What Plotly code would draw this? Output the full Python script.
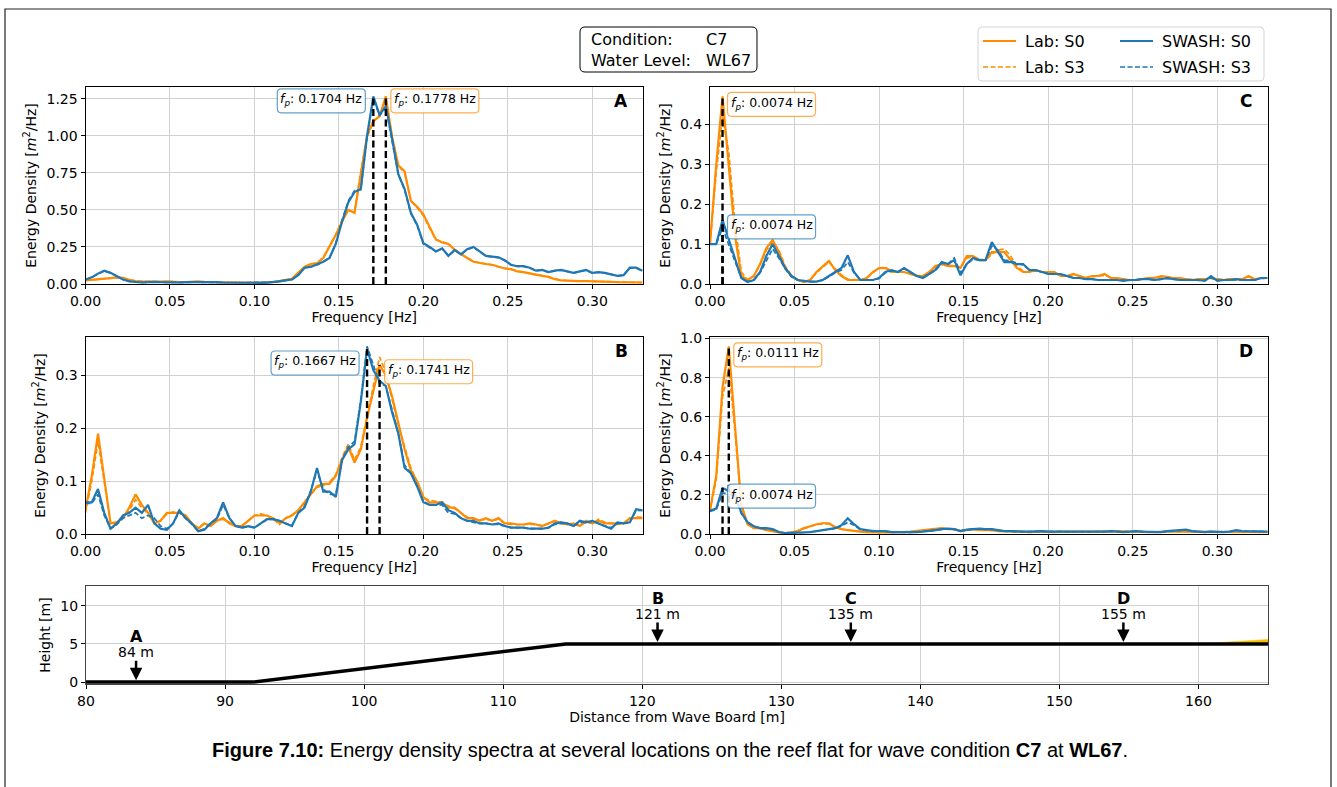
import numpy as np
import plotly.graph_objects as go

W, H = 1337, 787
FONT = "DejaVu Sans"

# ---------------------------------------------------------------- data
DF = 1 / 270                      # spectral resolution [Hz]
N_BINS = 90
FREQ = [k * DF for k in range(N_BINS)]

# Panel A
LAB_S0_A = [0.025, 0.028, 0.032, 0.036, 0.040, 0.045, 0.042, 0.028, 0.020, 0.018,
            0.016, 0.015, 0.016, 0.018, 0.014, 0.013, 0.012, 0.016, 0.018, 0.015,
            0.012, 0.012, 0.010, 0.010, 0.011, 0.008, 0.008, 0.008, 0.008, 0.010,
            0.012, 0.020, 0.028, 0.035, 0.075, 0.115, 0.135, 0.140, 0.175, 0.250,
            0.330, 0.420, 0.500, 0.480, 0.750, 1.000, 1.100, 1.130, 1.265, 0.990,
            0.800, 0.760, 0.560, 0.520, 0.470, 0.380, 0.300, 0.280, 0.270, 0.230,
            0.200, 0.175, 0.150, 0.140, 0.135, 0.130, 0.115, 0.105, 0.100, 0.085,
            0.080, 0.070, 0.062, 0.055, 0.048, 0.032, 0.025, 0.022, 0.020, 0.020,
            0.020, 0.020, 0.018, 0.016, 0.015, 0.013, 0.012, 0.011, 0.010, 0.010]
LAB_S3_A = [0.024, 0.027, 0.031, 0.035, 0.040, 0.043, 0.040, 0.027, 0.020, 0.018,
            0.016, 0.015, 0.015, 0.017, 0.014, 0.013, 0.013, 0.015, 0.017, 0.015,
            0.012, 0.011, 0.010, 0.010, 0.010, 0.008, 0.008, 0.008, 0.009, 0.010,
            0.013, 0.020, 0.030, 0.036, 0.078, 0.118, 0.135, 0.142, 0.180, 0.255,
            0.335, 0.430, 0.495, 0.485, 0.760, 0.990, 1.090, 1.140, 1.250, 0.995,
            0.795, 0.750, 0.565, 0.515, 0.460, 0.375, 0.300, 0.285, 0.270, 0.235,
            0.200, 0.178, 0.152, 0.142, 0.135, 0.128, 0.115, 0.106, 0.098, 0.086,
            0.080, 0.071, 0.062, 0.056, 0.047, 0.033, 0.026, 0.022, 0.021, 0.020,
            0.020, 0.019, 0.018, 0.016, 0.015, 0.013, 0.012, 0.011, 0.010, 0.010]
SWASH_S0_A = [0.030, 0.045, 0.070, 0.090, 0.075, 0.050, 0.030, 0.018, 0.012, 0.010,
              0.012, 0.015, 0.012, 0.010, 0.011, 0.010, 0.012, 0.013, 0.012, 0.010,
              0.012, 0.012, 0.010, 0.009, 0.010, 0.010, 0.010, 0.009, 0.008, 0.009,
              0.012, 0.018, 0.025, 0.030, 0.060, 0.110, 0.115, 0.130, 0.150, 0.175,
              0.270, 0.420, 0.550, 0.620, 0.640, 1.000, 1.265, 1.140, 1.200, 0.980,
              0.740, 0.640, 0.480, 0.400, 0.275, 0.250, 0.220, 0.240, 0.190, 0.230,
              0.200, 0.235, 0.250, 0.220, 0.190, 0.185, 0.180, 0.160, 0.130, 0.120,
              0.120, 0.110, 0.090, 0.095, 0.080, 0.090, 0.095, 0.085, 0.075, 0.085,
              0.095, 0.075, 0.080, 0.075, 0.065, 0.055, 0.060, 0.110, 0.110, 0.090]
SWASH_S3_A = [0.030, 0.044, 0.068, 0.088, 0.074, 0.050, 0.030, 0.018, 0.012, 0.010,
              0.012, 0.014, 0.012, 0.010, 0.011, 0.010, 0.011, 0.013, 0.012, 0.010,
              0.011, 0.012, 0.010, 0.009, 0.010, 0.010, 0.010, 0.009, 0.008, 0.009,
              0.012, 0.018, 0.026, 0.031, 0.062, 0.108, 0.118, 0.128, 0.150, 0.178,
              0.275, 0.430, 0.560, 0.630, 0.635, 0.990, 1.250, 1.135, 1.190, 0.975,
              0.735, 0.635, 0.475, 0.395, 0.270, 0.245, 0.220, 0.238, 0.188, 0.228,
              0.198, 0.232, 0.248, 0.218, 0.188, 0.183, 0.178, 0.158, 0.128, 0.118,
              0.118, 0.108, 0.090, 0.094, 0.080, 0.089, 0.093, 0.084, 0.074, 0.084,
              0.093, 0.074, 0.079, 0.074, 0.064, 0.055, 0.060, 0.108, 0.108, 0.089]

# Panel B
LAB_S0_B = [0.045, 0.110, 0.190, 0.100, 0.020, 0.022, 0.030, 0.050, 0.075, 0.055,
            0.040, 0.020, 0.025, 0.040, 0.040, 0.040, 0.035, 0.020, 0.010, 0.020,
            0.015, 0.025, 0.030, 0.020, 0.015, 0.015, 0.025, 0.035, 0.035, 0.035,
            0.030, 0.020, 0.030, 0.035, 0.045, 0.060, 0.075, 0.090, 0.095, 0.095,
            0.110, 0.140, 0.165, 0.135, 0.160, 0.220, 0.270, 0.320, 0.300, 0.260,
            0.210, 0.160, 0.120, 0.100, 0.070, 0.060, 0.060, 0.060, 0.050, 0.050,
            0.040, 0.030, 0.030, 0.025, 0.030, 0.025, 0.030, 0.020, 0.020, 0.018,
            0.018, 0.020, 0.018, 0.015, 0.020, 0.025, 0.020, 0.018, 0.020, 0.015,
            0.025, 0.020, 0.025, 0.020, 0.020, 0.020, 0.020, 0.030, 0.030, 0.030]
LAB_S3_B = [0.040, 0.100, 0.175, 0.095, 0.022, 0.022, 0.030, 0.045, 0.065, 0.050,
            0.038, 0.020, 0.025, 0.038, 0.042, 0.040, 0.035, 0.020, 0.012, 0.020,
            0.016, 0.025, 0.028, 0.022, 0.015, 0.016, 0.025, 0.035, 0.038, 0.035,
            0.028, 0.018, 0.030, 0.036, 0.045, 0.058, 0.075, 0.088, 0.092, 0.098,
            0.112, 0.145, 0.170, 0.140, 0.165, 0.225, 0.280, 0.335, 0.305, 0.255,
            0.205, 0.165, 0.125, 0.098, 0.068, 0.064, 0.062, 0.058, 0.053, 0.048,
            0.040, 0.032, 0.028, 0.027, 0.028, 0.025, 0.028, 0.020, 0.018, 0.018,
            0.018, 0.018, 0.018, 0.016, 0.020, 0.024, 0.022, 0.018, 0.018, 0.016,
            0.022, 0.020, 0.028, 0.022, 0.020, 0.018, 0.020, 0.028, 0.032, 0.032]
SWASH_S0_B = [0.060, 0.060, 0.085, 0.040, 0.010, 0.020, 0.035, 0.040, 0.050, 0.040,
              0.055, 0.020, 0.010, 0.008, 0.020, 0.045, 0.030, 0.020, 0.005, 0.008,
              0.020, 0.030, 0.060, 0.030, 0.015, 0.012, 0.015, 0.012, 0.020, 0.028,
              0.028, 0.025, 0.020, 0.015, 0.040, 0.050, 0.080, 0.125, 0.080, 0.080,
              0.070, 0.140, 0.160, 0.170, 0.250, 0.350, 0.310, 0.290, 0.280, 0.230,
              0.190, 0.125, 0.115, 0.090, 0.060, 0.055, 0.055, 0.060, 0.045, 0.040,
              0.030, 0.025, 0.025, 0.020, 0.020, 0.018, 0.020, 0.015, 0.012, 0.012,
              0.012, 0.010, 0.010, 0.010, 0.012, 0.020, 0.022, 0.020, 0.015, 0.025,
              0.022, 0.025, 0.020, 0.015, 0.010, 0.022, 0.020, 0.022, 0.047, 0.045]
SWASH_S3_B = [0.058, 0.058, 0.075, 0.035, 0.010, 0.018, 0.030, 0.035, 0.040, 0.030,
              0.035, 0.030, 0.015, 0.010, 0.020, 0.042, 0.030, 0.018, 0.006, 0.010,
              0.020, 0.028, 0.055, 0.030, 0.015, 0.012, 0.014, 0.012, 0.020, 0.027,
              0.028, 0.025, 0.020, 0.016, 0.040, 0.052, 0.082, 0.120, 0.085, 0.075,
              0.075, 0.140, 0.165, 0.175, 0.255, 0.355, 0.320, 0.285, 0.280, 0.235,
              0.190, 0.130, 0.115, 0.092, 0.062, 0.055, 0.055, 0.055, 0.040, 0.038,
              0.030, 0.025, 0.022, 0.020, 0.020, 0.018, 0.018, 0.015, 0.012, 0.012,
              0.012, 0.010, 0.010, 0.010, 0.012, 0.018, 0.020, 0.020, 0.015, 0.022,
              0.022, 0.024, 0.020, 0.015, 0.012, 0.020, 0.020, 0.022, 0.045, 0.044]

# Panel C
LAB_S0_C = [0.100, 0.300, 0.470, 0.300, 0.120, 0.020, 0.010, 0.020, 0.050, 0.090,
            0.110, 0.080, 0.040, 0.020, 0.010, 0.005, 0.010, 0.030, 0.045, 0.058,
            0.035, 0.020, 0.010, 0.010, 0.010, 0.015, 0.030, 0.040, 0.040, 0.030,
            0.030, 0.030, 0.025, 0.020, 0.020, 0.030, 0.045, 0.050, 0.045, 0.045,
            0.040, 0.070, 0.070, 0.060, 0.060, 0.080, 0.080, 0.080, 0.060, 0.040,
            0.030, 0.030, 0.035, 0.030, 0.030, 0.030, 0.020, 0.020, 0.025, 0.020,
            0.015, 0.020, 0.020, 0.025, 0.015, 0.015, 0.012, 0.010, 0.010, 0.012,
            0.015, 0.015, 0.020, 0.018, 0.015, 0.015, 0.012, 0.010, 0.012, 0.012,
            0.015, 0.012, 0.010, 0.012, 0.012, 0.012, 0.020, 0.012, 0.015, 0.015]
LAB_S3_C = [0.100, 0.280, 0.420, 0.330, 0.150, 0.030, 0.010, 0.020, 0.048, 0.085,
            0.105, 0.085, 0.045, 0.022, 0.010, 0.006, 0.010, 0.028, 0.042, 0.055,
            0.038, 0.022, 0.012, 0.010, 0.010, 0.014, 0.028, 0.040, 0.042, 0.032,
            0.030, 0.030, 0.026, 0.022, 0.020, 0.028, 0.042, 0.050, 0.048, 0.045,
            0.042, 0.065, 0.068, 0.062, 0.060, 0.075, 0.085, 0.088, 0.070, 0.045,
            0.032, 0.030, 0.033, 0.030, 0.030, 0.028, 0.022, 0.020, 0.024, 0.020,
            0.016, 0.018, 0.020, 0.022, 0.016, 0.015, 0.012, 0.010, 0.011, 0.012,
            0.014, 0.016, 0.018, 0.018, 0.015, 0.014, 0.012, 0.011, 0.012, 0.012,
            0.014, 0.012, 0.011, 0.012, 0.012, 0.012, 0.018, 0.012, 0.014, 0.015]
SWASH_S0_C = [0.100, 0.100, 0.160, 0.110, 0.060, 0.015, 0.005, 0.010, 0.030, 0.070,
              0.100, 0.070, 0.040, 0.020, 0.010, 0.008, 0.006, 0.006, 0.010, 0.020,
              0.030, 0.040, 0.072, 0.030, 0.010, 0.010, 0.010, 0.015, 0.030, 0.035,
              0.030, 0.040, 0.030, 0.020, 0.015, 0.025, 0.035, 0.055, 0.050, 0.060,
              0.022, 0.050, 0.065, 0.060, 0.060, 0.105, 0.080, 0.055, 0.055, 0.050,
              0.050, 0.035, 0.035, 0.030, 0.025, 0.025, 0.025, 0.020, 0.015, 0.015,
              0.012, 0.012, 0.010, 0.010, 0.010, 0.010, 0.008, 0.010, 0.010, 0.012,
              0.012, 0.010, 0.012, 0.015, 0.012, 0.010, 0.010, 0.010, 0.010, 0.008,
              0.020, 0.008, 0.010, 0.010, 0.012, 0.010, 0.010, 0.010, 0.015, 0.015]
SWASH_S3_C = [0.100, 0.100, 0.140, 0.100, 0.055, 0.015, 0.006, 0.010, 0.028, 0.060,
              0.088, 0.065, 0.038, 0.018, 0.010, 0.008, 0.006, 0.006, 0.010, 0.018,
              0.028, 0.035, 0.055, 0.028, 0.010, 0.010, 0.010, 0.014, 0.028, 0.033,
              0.030, 0.038, 0.030, 0.020, 0.016, 0.024, 0.034, 0.052, 0.050, 0.065,
              0.028, 0.050, 0.062, 0.060, 0.060, 0.095, 0.085, 0.060, 0.058, 0.052,
              0.048, 0.036, 0.034, 0.030, 0.026, 0.025, 0.024, 0.020, 0.016, 0.015,
              0.012, 0.012, 0.010, 0.010, 0.010, 0.010, 0.009, 0.010, 0.010, 0.012,
              0.012, 0.010, 0.012, 0.014, 0.012, 0.010, 0.010, 0.010, 0.010, 0.009,
              0.016, 0.009, 0.010, 0.010, 0.011, 0.010, 0.010, 0.010, 0.014, 0.015]

# Panel D
LAB_S0_D = [0.120, 0.300, 0.750, 0.960, 0.550, 0.150, 0.050, 0.030, 0.030, 0.020,
            0.015, 0.008, 0.005, 0.008, 0.015, 0.030, 0.040, 0.050, 0.055, 0.055,
            0.035, 0.025, 0.020, 0.015, 0.012, 0.010, 0.008, 0.008, 0.008, 0.008,
            0.010, 0.010, 0.012, 0.015, 0.020, 0.022, 0.025, 0.030, 0.025, 0.025,
            0.015, 0.020, 0.025, 0.020, 0.020, 0.020, 0.015, 0.015, 0.012, 0.012,
            0.012, 0.010, 0.012, 0.012, 0.012, 0.010, 0.012, 0.012, 0.010, 0.010,
            0.010, 0.010, 0.010, 0.012, 0.012, 0.015, 0.012, 0.012, 0.012, 0.010,
            0.010, 0.010, 0.012, 0.012, 0.012, 0.012, 0.012, 0.010, 0.010, 0.010,
            0.010, 0.010, 0.012, 0.012, 0.010, 0.012, 0.010, 0.010, 0.010, 0.010]
LAB_S3_D = [0.120, 0.280, 0.700, 0.850, 0.520, 0.150, 0.050, 0.030, 0.028, 0.020,
            0.015, 0.008, 0.006, 0.008, 0.015, 0.028, 0.038, 0.048, 0.052, 0.052,
            0.035, 0.025, 0.020, 0.015, 0.012, 0.010, 0.008, 0.008, 0.008, 0.008,
            0.010, 0.010, 0.012, 0.015, 0.018, 0.022, 0.026, 0.028, 0.025, 0.024,
            0.016, 0.020, 0.024, 0.020, 0.020, 0.019, 0.015, 0.014, 0.012, 0.012,
            0.012, 0.010, 0.012, 0.012, 0.011, 0.010, 0.012, 0.012, 0.010, 0.010,
            0.010, 0.010, 0.010, 0.012, 0.012, 0.014, 0.012, 0.012, 0.012, 0.010,
            0.010, 0.010, 0.012, 0.012, 0.012, 0.011, 0.012, 0.010, 0.010, 0.010,
            0.010, 0.010, 0.011, 0.012, 0.010, 0.012, 0.010, 0.010, 0.010, 0.010]
SWASH_S0_D = [0.120, 0.130, 0.235, 0.220, 0.200, 0.110, 0.060, 0.040, 0.030, 0.030,
              0.025, 0.010, 0.005, 0.005, 0.005, 0.008, 0.010, 0.015, 0.020, 0.025,
              0.030, 0.045, 0.080, 0.050, 0.025, 0.020, 0.015, 0.015, 0.015, 0.010,
              0.010, 0.008, 0.008, 0.010, 0.012, 0.015, 0.020, 0.025, 0.028, 0.025,
              0.015, 0.022, 0.025, 0.028, 0.025, 0.025, 0.020, 0.015, 0.015, 0.012,
              0.012, 0.012, 0.015, 0.015, 0.012, 0.012, 0.012, 0.010, 0.010, 0.010,
              0.010, 0.010, 0.010, 0.012, 0.015, 0.012, 0.010, 0.012, 0.015, 0.012,
              0.012, 0.010, 0.010, 0.015, 0.018, 0.020, 0.022, 0.015, 0.012, 0.010,
              0.012, 0.010, 0.010, 0.012, 0.020, 0.015, 0.015, 0.012, 0.012, 0.012]
SWASH_S3_D = [0.115, 0.125, 0.210, 0.205, 0.190, 0.105, 0.058, 0.040, 0.030, 0.028,
              0.022, 0.010, 0.005, 0.005, 0.005, 0.008, 0.010, 0.014, 0.018, 0.022,
              0.028, 0.040, 0.060, 0.045, 0.022, 0.018, 0.015, 0.015, 0.014, 0.010,
              0.010, 0.008, 0.008, 0.010, 0.012, 0.015, 0.019, 0.024, 0.026, 0.024,
              0.016, 0.021, 0.024, 0.026, 0.024, 0.024, 0.019, 0.015, 0.014, 0.012,
              0.012, 0.012, 0.014, 0.014, 0.012, 0.012, 0.012, 0.010, 0.010, 0.010,
              0.010, 0.010, 0.010, 0.012, 0.014, 0.012, 0.010, 0.012, 0.014, 0.012,
              0.012, 0.010, 0.010, 0.014, 0.017, 0.019, 0.020, 0.015, 0.012, 0.010,
              0.012, 0.010, 0.010, 0.012, 0.018, 0.015, 0.014, 0.012, 0.012, 0.012]

SPECTRA = {
    "A": (LAB_S0_A, LAB_S3_A, SWASH_S0_A, SWASH_S3_A),
    "B": (LAB_S0_B, LAB_S3_B, SWASH_S0_B, SWASH_S3_B),
    "C": (LAB_S0_C, LAB_S3_C, SWASH_S0_C, SWASH_S3_C),
    "D": (LAB_S0_D, LAB_S3_D, SWASH_S0_D, SWASH_S3_D),
}

# Reef profile and gauge stations
PROFILE_X = [80, 92, 114.5, 165]
PROFILE_Z = [0, 0, 5, 5]
BEACH_X = [160, 165, 165]
BEACH_Z = [5, 5.6, 5]
STATION_NAMES = ["A", "B", "C", "D"]
STATION_X = [83.6, 121.1, 135.0, 154.6]

CONDITION = "C7"
WATER_LEVEL = "WL67"

# ---------------------------------------------------------------- style
ORANGE = "#ff8c00"
BLUE = "#1f77b4"
GRID = "#d0d0d0"
TICK_SIZE = 14
TITLE_SIZE = 14

# panel boxes in pixels: (left, right, top, bottom)
BOXES = {
    "A": (85.5, 643, 87, 284),
    "C": (710, 1268, 87, 284),
    "B": (85.5, 643, 337, 534),
    "D": (710, 1268, 337, 534),
}
PROFILE_BOX = (86, 1268, 586, 684)
AXIS_ID = {"A": "", "C": "2", "B": "3", "D": "4"}
YTICK = {"A": (0.25, ".2f"), "B": (0.1, ".1f"), "C": (0.1, ".1f"), "D": (0.2, ".1f")}
# placement of the peak-frequency boxes: (side, height in data units)
FP_LABEL_POS = {
    "A": {"lab": ("right", 1.235), "swash": ("left", 1.235)},
    "B": {"lab": ("right", 0.307), "swash": ("left", 0.3236)},
    "C": {"lab": ("right", 0.450), "swash": ("right", 0.143)},
    "D": {"lab": ("right", 0.917), "swash": ("right", 0.194)},
}
FP_BOX_W, FP_BOX_H, FP_BOX_R = 88, 24, 4


def px(x):
    return x / W


def py(y):
    return 1 - y / H


def rounded_path(x0, y0, x1, y1, r, fx=lambda v: v, fy=lambda v: v):
    pts = [
        ("M", x0 + r, y0), ("L", x1 - r, y0), ("Q", x1, y0, x1, y0 + r),
        ("L", x1, y1 - r), ("Q", x1, y1, x1 - r, y1), ("L", x0 + r, y1),
        ("Q", x0, y1, x0, y1 - r), ("L", x0, y0 + r), ("Q", x0, y0, x0 + r, y0),
    ]
    out = []
    for p in pts:
        cmd, vals = p[0], p[1:]
        coords = []
        for i in range(0, len(vals), 2):
            coords.append(f"{fx(vals[i]):.5f},{fy(vals[i + 1]):.5f}")
        out.append(cmd + " " + " ".join(coords))
    return " ".join(out) + " Z"


def rounded_rect(x0, y0, x1, y1, r):
    return rounded_path(x0, y0, x1, y1, r, px, py)


fig = go.Figure()
layout = dict(
    width=W, height=H, margin=dict(l=0, r=0, t=0, b=0, autoexpand=False),
    paper_bgcolor="white", plot_bgcolor="white",
    showlegend=False, font=dict(family=FONT, size=TICK_SIZE, color="black"),
)
shapes = []
annotations = []

axis_common = dict(
    showline=True, linecolor="black", linewidth=1, mirror=True,
    ticks="outside", ticklen=4, tickwidth=1, tickcolor="black",
    showgrid=True, gridcolor=GRID, gridwidth=1, zeroline=False, automargin=False,
    tickfont=dict(family=FONT, size=TICK_SIZE, color="black"),
)

for name, series in SPECTRA.items():
    aid = AXIS_ID[name]
    xa, ya = "x" + aid, "y" + aid
    l, r, t, b = BOXES[name]
    lab0, lab3, sw0, sw3 = series
    ymax = max(max(s) for s in series) * 1.05
    dtick, fmt = YTICK[name]

    layout["xaxis" + aid] = dict(
        axis_common, domain=[px(l), px(r)], anchor=ya, range=[0, 0.33],
        tick0=0, dtick=0.05, tickformat=".2f",
        title=dict(text="Frequency [Hz]", standoff=2, font=dict(size=TITLE_SIZE)),
    )
    layout["yaxis" + aid] = dict(
        axis_common, domain=[py(b), py(t)], anchor=xa, range=[0, ymax],
        tick0=0, dtick=dtick, tickformat=fmt,
        title=dict(text="Energy Density [<i>m</i><sup>2</sup>/Hz]", standoff=6,
                   font=dict(size=TITLE_SIZE)),
    )

    for vals, color, dash, width in [
        (lab0, ORANGE, "solid", 2.2), (lab3, ORANGE, "5px,2.5px", 1.7),
        (sw0, BLUE, "solid", 2.2), (sw3, BLUE, "5px,2.5px", 1.7),
    ]:
        fig.add_trace(go.Scatter(
            x=FREQ, y=vals, mode="lines", xaxis=xa, yaxis=ya,
            line=dict(color=color, width=width, dash=dash), hoverinfo="skip",
        ))

    # peak frequency markers with rounded label boxes
    for key, vals, edge in [
        ("lab", lab0, "rgba(255,140,0,0.7)"),
        ("swash", sw0, "rgba(31,119,180,0.7)"),
    ]:
        kp = int(np.argmax(vals))
        fp, ep = FREQ[kp], vals[kp]
        fig.add_trace(go.Scatter(
            x=[fp, fp], y=[0, ep], mode="lines", xaxis=xa, yaxis=ya,
            line=dict(color="black", width=2.4, dash="7px,3.5px"), hoverinfo="skip",
        ))
        side, ylab = FP_LABEL_POS[name][key]
        if side == "right":
            bx0, bx1 = 5, 5 + FP_BOX_W
        else:
            bx0, bx1 = -8 - FP_BOX_W, -8
        shapes.append(dict(
            type="path", xref=xa, yref=ya, xsizemode="pixel", ysizemode="pixel",
            xanchor=fp, yanchor=ylab,
            path=rounded_path(bx0, -FP_BOX_H / 2, bx1, FP_BOX_H / 2, FP_BOX_R),
            line=dict(color=edge, width=1.2), fillcolor="rgba(255,255,255,0.85)",
            layer="above",
        ))
        annotations.append(dict(
            x=fp, y=ylab, xref=xa, yref=ya, showarrow=False,
            text=f"<i>f</i><sub><i>p</i></sub>: {fp:.4f} Hz",
            xanchor="center", xshift=(bx0 + bx1) / 2, yanchor="middle", yshift=1,
            font=dict(family=FONT, size=12.5, color="black"),
        ))

    # panel letter
    annotations.append(dict(
        x=px(r - 22), y=py(t + 14), xref="paper", yref="paper", showarrow=False,
        text=f"<b>{name}</b>", font=dict(family=FONT, size=17, color="black"),
        xanchor="center", yanchor="middle",
    ))

# ---------------------------------------------------------------- profile
l, r, t, b = PROFILE_BOX
layout["xaxis5"] = dict(
    axis_common, domain=[px(l), px(r)], anchor="y5", range=[80, 165],
    tick0=80, dtick=10, linecolor="#444444",
    title=dict(text="Distance from Wave Board [m]", standoff=2,
               font=dict(size=TITLE_SIZE)),
)
layout["yaxis5"] = dict(
    axis_common, domain=[py(b), py(t)], anchor="x5", range=[-0.25, 12.6],
    tick0=0, dtick=5, linecolor="#444444",
    title=dict(text="Height [m]", standoff=6, font=dict(size=TITLE_SIZE)),
)
fig.add_trace(go.Scatter(
    x=BEACH_X, y=BEACH_Z, mode="lines", fill="toself", xaxis="x5", yaxis="y5",
    fillcolor="#f5c000", line=dict(color="#f5c000", width=0.5), hoverinfo="skip",
))
fig.add_trace(go.Scatter(
    x=PROFILE_X, y=PROFILE_Z, mode="lines", xaxis="x5", yaxis="y5",
    line=dict(color="black", width=3.5), hoverinfo="skip",
))
for sname, sx in zip(STATION_NAMES, STATION_X):
    bed = float(np.interp(sx, PROFILE_X, PROFILE_Z))
    annotations.append(dict(
        x=sx, y=bed + 0.25, ax=sx, ay=bed + 3.0, xref="x5", yref="y5",
        axref="x5", ayref="y5", text="", showarrow=True, arrowhead=2,
        arrowsize=1, arrowwidth=2.5, arrowcolor="black",
    ))
    annotations.append(dict(
        x=sx, y=bed + 3.95, xref="x5", yref="y5", showarrow=False,
        text=f"{round(sx)} m", font=dict(family=FONT, size=14, color="black"),
        xanchor="center", yanchor="middle",
    ))
    annotations.append(dict(
        x=sx, y=bed + 5.95, xref="x5", yref="y5", showarrow=False,
        text=f"<b>{sname}</b>", font=dict(family=FONT, size=16, color="black"),
        xanchor="center", yanchor="middle",
    ))

# ---------------------------------------------------------------- frame, info box, legend
shapes.append(dict(type="path", xref="paper", yref="paper",
                   path=f"M {px(5):.5f},{py(800):.5f} L {px(5):.5f},{py(9):.5f} "
                        f"L {px(1331):.5f},{py(9):.5f} L {px(1331):.5f},{py(800):.5f}",
                   line=dict(color="#222222", width=1.2)))

shapes.append(dict(type="path", xref="paper", yref="paper",
                   path=rounded_rect(580, 27, 757, 72, 5),
                   line=dict(color="black", width=1), fillcolor="white"))
annotations.append(dict(x=px(589), y=py(49.5), xref="paper", yref="paper",
                        showarrow=False, align="left", xanchor="left", yanchor="middle",
                        text="Condition:<br>Water Level:",
                        font=dict(family=FONT, size=16, color="black")))
annotations.append(dict(x=px(704), y=py(49.5), xref="paper", yref="paper",
                        showarrow=False, align="left", xanchor="left", yanchor="middle",
                        text=f"{CONDITION}<br>{WATER_LEVEL}",
                        font=dict(family=FONT, size=16, color="black")))

shapes.append(dict(type="path", xref="paper", yref="paper",
                   path=rounded_rect(978, 27, 1264, 81, 4),
                   line=dict(color="#d5d5d5", width=1), fillcolor="white"))
legend_items = [
    ("Lab: S0", ORANGE, "solid", 2.2, 983, 41),
    ("Lab: S3", ORANGE, "5px,2.5px", 1.7, 983, 67),
    ("SWASH: S0", BLUE, "solid", 2.2, 1120, 41),
    ("SWASH: S3", BLUE, "5px,2.5px", 1.7, 1120, 67),
]
for label, color, dash, width, x0, y0 in legend_items:
    shapes.append(dict(type="line", xref="paper", yref="paper",
                       x0=px(x0), x1=px(x0 + 33), y0=py(y0), y1=py(y0),
                       line=dict(color=color, width=width, dash=dash)))
    annotations.append(dict(x=px(x0 + 40), y=py(y0), xref="paper", yref="paper",
                            showarrow=False, xanchor="left", yanchor="middle",
                            text=label, font=dict(family=FONT, size=16, color="black")))

# caption
annotations.append(dict(
    x=px(670), y=py(750), xref="paper", yref="paper", showarrow=False,
    xanchor="center", yanchor="middle",
    text=(f"<b>Figure 7.10:</b> Energy density spectra at several locations on the reef "
          f"flat for wave condition <b>{CONDITION}</b> at <b>{WATER_LEVEL}</b>."),
    font=dict(family="Liberation Sans", size=20, color="black"),
))

layout["shapes"] = shapes
layout["annotations"] = annotations
fig.update_layout(**layout)
fig.write_html("out.html")
